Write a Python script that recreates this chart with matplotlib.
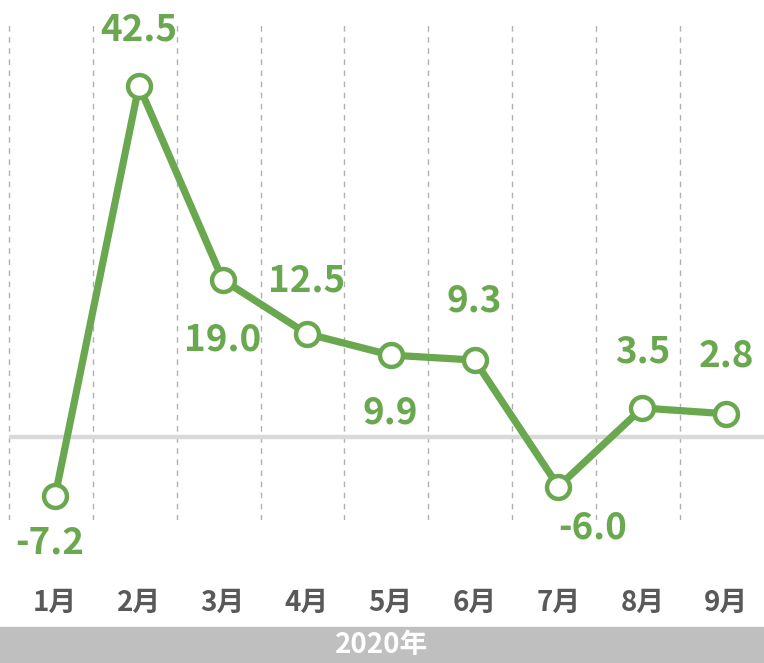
import matplotlib.pyplot as plt
from matplotlib.patches import Rectangle

plt.rcParams['font.family'] = ['Noto Sans CJK SC', 'DejaVu Sans']

months = ['1月', '2月', '3月', '4月', '5月', '6月', '7月', '8月', '9月']
values = [-7.2, 42.5, 19.0, 12.5, 9.9, 9.3, -6.0, 3.5, 2.8]
year_label = '2020年'

# label offsets (pixels) relative to each point
label_offsets = [(-5, -47), (0, 56), (0, -60), (0, 53), (0, -58),
                 (0, 59), (34, -41), (0, 56), (0, 58)]

green = '#6aa84f'
W, H = 764, 663
fig = plt.figure(figsize=(W / 100, H / 100), dpi=100)
ax = fig.add_axes([0, (H - 520) / H, 1, 498 / H])

x = list(range(len(months)))
ax.set_xlim(-0.656, 8.45)
ax.set_ylim(-10.05, 50.2)

# dashed separators between months
for i in x:
    ax.axvline(i - 0.55, color='#b0b0b0', lw=1, ls=(0, (4, 4)), zorder=1)

ax.hlines(0, -0.55, 8.45, color='#d9d9d9', lw=3.2, zorder=2)

ax.plot(x, values, color=green, lw=5.2, marker='o', ms=16.5,
        mfc='white', mec=green, mew=3.2, zorder=3, solid_joinstyle='miter')

for i, v in enumerate(values):
    dx, dy = label_offsets[i]
    ax.annotate(f'{v:.1f}', (i, v), xytext=(dx * 0.72, dy * 0.72),
                textcoords='offset points', ha='center', va='center',
                fontsize=26.5, fontweight='bold', color=green,
                annotation_clip=False)

ax.axis('off')

# month labels
for i, m in enumerate(months):
    ax.text(i, 1 - (603 - 22) / 498, m, transform=ax.get_xaxis_transform(),
            ha='center', va='center', fontsize=20, fontweight='bold',
            color='#595959')

# year band at the bottom
fig.patches.append(Rectangle((0, 0), 1, 36 / H, transform=fig.transFigure,
                             color='#bfbfbf', zorder=0))
fig.text(0.5, 18 / H, year_label, ha='center', va='center', fontsize=20,
         fontweight='bold', color='white')

fig.savefig('out.png', dpi=100)
